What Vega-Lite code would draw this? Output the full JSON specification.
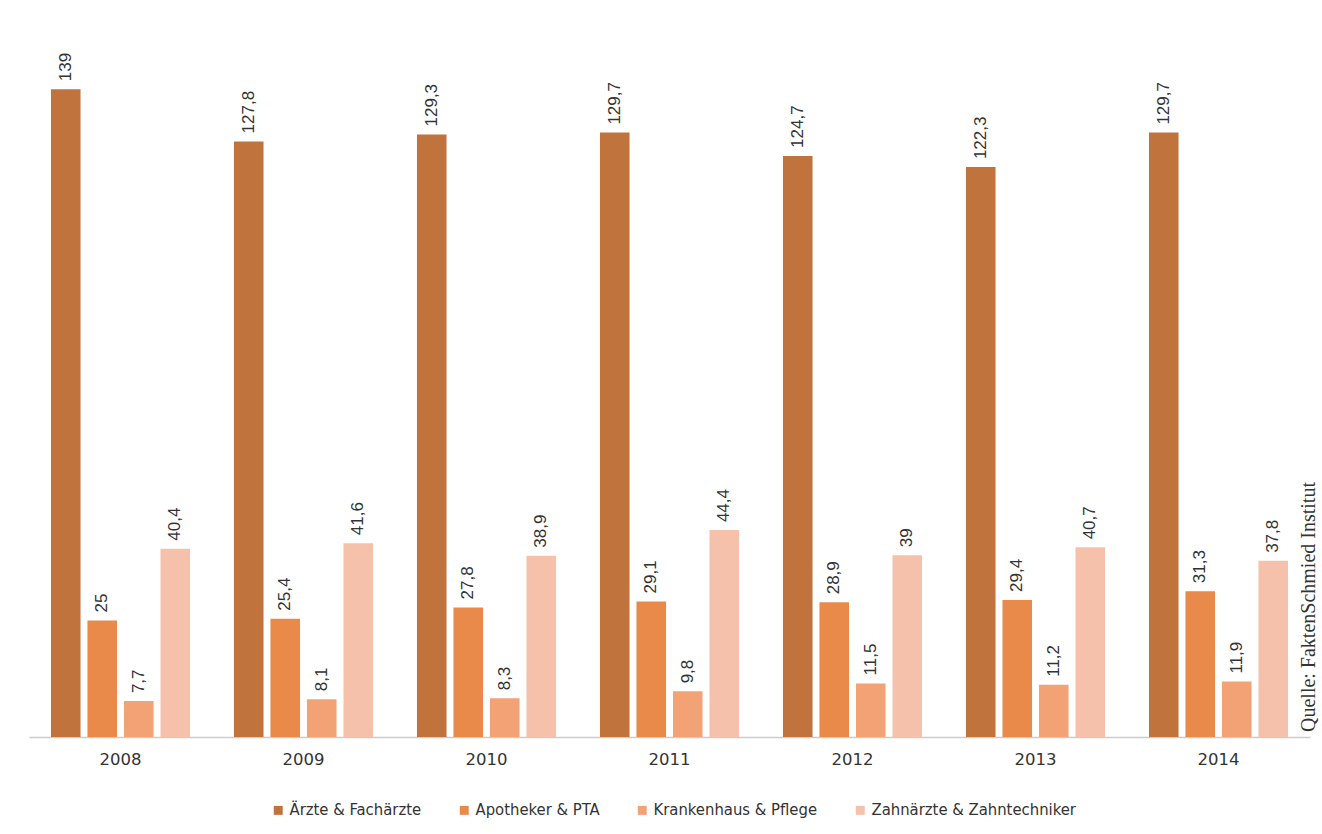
{
  "$schema": "https://vega.github.io/schema/vega-lite/v6.json",
  "width": 1281,
  "height": 699,
  "autosize": {"type": "none"},
  "padding": {"left": 29, "top": 38, "right": 12, "bottom": 97},
  "background": "white",
  "title": {
    "text": "Quelle: FaktenSchmied Institut",
    "orient": "right",
    "anchor": "end",
    "frame": "group",
    "angle": 270,
    "align": "left",
    "baseline": "middle",
    "offset": -21,
    "dx": 5,
    "font": "Liberation Serif",
    "fontSize": 20,
    "fontWeight": "normal",
    "color": "#333333"
  },
  "config": {
    "locale": {"number": {"decimal": ",", "thousands": ".", "grouping": [3], "currency": ["", " €"]}},
    "view": {"stroke": null},
    "font": "Liberation Sans"
  },
  "data": {
    "values": [
      {"year": "2008", "cat": "Ärzte & Fachärzte", "v": 139},
      {"year": "2008", "cat": "Apotheker & PTA", "v": 25},
      {"year": "2008", "cat": "Krankenhaus & Pflege", "v": 7.7},
      {"year": "2008", "cat": "Zahnärzte & Zahntechniker", "v": 40.4},
      {"year": "2009", "cat": "Ärzte & Fachärzte", "v": 127.8},
      {"year": "2009", "cat": "Apotheker & PTA", "v": 25.4},
      {"year": "2009", "cat": "Krankenhaus & Pflege", "v": 8.1},
      {"year": "2009", "cat": "Zahnärzte & Zahntechniker", "v": 41.6},
      {"year": "2010", "cat": "Ärzte & Fachärzte", "v": 129.3},
      {"year": "2010", "cat": "Apotheker & PTA", "v": 27.8},
      {"year": "2010", "cat": "Krankenhaus & Pflege", "v": 8.3},
      {"year": "2010", "cat": "Zahnärzte & Zahntechniker", "v": 38.9},
      {"year": "2011", "cat": "Ärzte & Fachärzte", "v": 129.7},
      {"year": "2011", "cat": "Apotheker & PTA", "v": 29.1},
      {"year": "2011", "cat": "Krankenhaus & Pflege", "v": 9.8},
      {"year": "2011", "cat": "Zahnärzte & Zahntechniker", "v": 44.4},
      {"year": "2012", "cat": "Ärzte & Fachärzte", "v": 124.7},
      {"year": "2012", "cat": "Apotheker & PTA", "v": 28.9},
      {"year": "2012", "cat": "Krankenhaus & Pflege", "v": 11.5},
      {"year": "2012", "cat": "Zahnärzte & Zahntechniker", "v": 39},
      {"year": "2013", "cat": "Ärzte & Fachärzte", "v": 122.3},
      {"year": "2013", "cat": "Apotheker & PTA", "v": 29.4},
      {"year": "2013", "cat": "Krankenhaus & Pflege", "v": 11.2},
      {"year": "2013", "cat": "Zahnärzte & Zahntechniker", "v": 40.7},
      {"year": "2014", "cat": "Ärzte & Fachärzte", "v": 129.7},
      {"year": "2014", "cat": "Apotheker & PTA", "v": 31.3},
      {"year": "2014", "cat": "Krankenhaus & Pflege", "v": 11.9},
      {"year": "2014", "cat": "Zahnärzte & Zahntechniker", "v": 37.8}
    ]
  },
  "encoding": {
    "x": {
      "field": "year",
      "type": "nominal",
      "scale": {"paddingInner": 0.24, "paddingOuter": 0.12},
      "axis": {
        "title": null,
        "labelAngle": 0,
        "ticks": false,
        "domainColor": "#cccccc",
        "domainWidth": 1.5,
        "labelPadding": 14,
        "labelFontSize": 16.5,
        "labelColor": "#333333",
        "labelFont": "DejaVu Sans"
      }
    },
    "xOffset": {
      "field": "cat",
      "type": "nominal",
      "sort": ["Ärzte & Fachärzte", "Apotheker & PTA", "Krankenhaus & Pflege", "Zahnärzte & Zahntechniker"],
      "scale": {"paddingInner": 0.19, "paddingOuter": 0}
    },
    "y": {
      "field": "v",
      "type": "quantitative",
      "scale": {"domain": [0, 150], "nice": false},
      "axis": null
    }
  },
  "layer": [
    {
      "mark": {"type": "bar"},
      "encoding": {
        "color": {
          "field": "cat",
          "type": "nominal",
          "sort": ["Ärzte & Fachärzte", "Apotheker & PTA", "Krankenhaus & Pflege", "Zahnärzte & Zahntechniker"],
          "scale": {
            "domain": ["Ärzte & Fachärzte", "Apotheker & PTA", "Krankenhaus & Pflege", "Zahnärzte & Zahntechniker"],
            "range": ["#C0733D", "#E98A4A", "#F3A276", "#F5C1AA"]
          },
          "legend": {
            "title": null,
            "orient": "none",
            "legendX": 241,
            "legendY": 764,
            "direction": "horizontal",
            "symbolType": "square",
            "symbolSize": 80,
            "symbolStrokeWidth": 0,
            "labelFontSize": 16.5,
            "labelColor": "#333333",
            "labelFont": "DejaVu Sans Condensed",
            "labelLimit": 0,
            "labelOffset": 3,
            "columnPadding": 34
          }
        }
      }
    },
    {
      "mark": {
        "type": "text",
        "angle": 270,
        "align": "left",
        "baseline": "middle",
        "dx": 8,
        "fontSize": 17,
        "color": "#333333"
      },
      "encoding": {
        "text": {"field": "v", "type": "quantitative", "format": ".1~f"}
      }
    }
  ]
}
